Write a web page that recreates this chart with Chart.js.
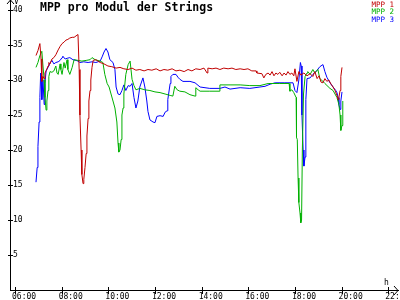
<!DOCTYPE html>
<html>
<head>
<meta charset="utf-8">
<script src="https://cdn.jsdelivr.net/npm/chart.js@4/dist/chart.umd.min.js"></script>
<style>
  html, body { margin: 0; padding: 0; background: #fff; }
  #wrap { width: 400px; height: 300px; }
</style>
</head>
<body>
<div id="wrap"><canvas id="mpp"></canvas></div>
<script>
"use strict";

/* --- DATA --- */

const series_labels = ['MPP 1', 'MPP 2', 'MPP 3'];
const series_colors = ['#c00000', '#00b000', '#0000ff'];

const x_ticks = [6, 8, 10, 12, 14, 16, 18, 20, 22];   // hours
const y_ticks = [5, 10, 15, 20, 25, 30, 35, 40];       // volts

const mpp1_time = [
  '06:54','06:59','07:04','07:07','07:09','07:12','07:15','07:17','07:20','07:25','07:27','07:30',
  '07:35','07:40','07:45','07:51','07:56','08:01','08:06','08:11','08:16','08:21','08:27','08:32',
  '08:37','08:42','08:45','08:47','08:50','08:52','08:55','08:57','09:00','09:03','09:05','09:08',
  '09:10','09:13','09:15','09:18','09:21','09:28','09:39','09:49','09:59','10:09','10:20','10:30',
  '10:40','10:51','11:01','11:11','11:21','11:32','11:42','11:52','12:03','12:13','12:23','12:33',
  '12:44','12:54','13:04','13:15','13:25','13:35','13:45','13:56','14:06','14:14','14:16','14:27',
  '14:37','14:47','14:57','15:08','15:18','15:28','15:39','15:49','15:59','16:09','16:20','16:22',
  '16:35','16:40','16:45','16:51','16:56','17:01','17:06','17:11','17:16','17:21','17:27','17:32',
  '17:37','17:42','17:47','17:52','17:57','18:00','18:05','18:10','18:15','18:23','18:31','18:39',
  '18:46','18:51','18:57','19:02','19:07','19:12','19:17','19:22','19:27','19:33','19:38','19:43',
  '19:48','19:51','19:53','19:56','19:58','20:01'
];
const mpp1_volt = [
  33.5, 34.2, 35.2, 33.0, 29.8, 30.5, 30.2, 31.0, 31.3, 32.0, 32.5, 32.3,
  33.0, 33.2, 33.6, 34.3, 34.8, 35.2, 35.4, 35.7, 35.8, 36.0, 36.1, 36.1,
  36.3, 36.5, 31.5, 25.0, 20.0, 16.5, 15.2, 15.8, 17.5, 19.5, 22.0, 24.5,
  27.0, 28.5, 30.0, 31.8, 32.8, 32.9, 32.5, 32.3, 32.0, 31.9, 31.7, 31.8,
  31.6, 31.5, 31.7, 31.4, 31.5, 31.3, 31.5, 31.4, 31.6, 31.3, 31.5, 31.4,
  31.6, 31.3, 31.4, 31.2, 31.5, 31.3, 31.6, 31.5, 31.7, 31.0, 31.7, 31.6,
  31.7, 31.5, 31.7, 31.6, 31.7, 31.5, 31.6, 31.5, 31.6, 31.3, 31.3, 31.0,
  30.9, 30.3, 30.8, 31.0, 30.7, 31.2, 30.6, 31.0, 30.8, 31.1, 30.6, 31.0,
  30.7, 31.2, 30.8, 31.0, 30.6, 31.6, 29.8, 31.2, 30.7, 31.0, 30.6, 30.9,
  30.5, 31.2, 30.2, 30.6, 29.7, 29.6, 30.2, 29.8, 30.0, 29.4, 29.0, 28.5,
  27.8, 27.2, 27.5, 28.5, 30.5, 31.8
];

const mpp2_time = [
  '06:54','06:59','07:04','07:09','07:12','07:15','07:17','07:20','07:22','07:25','07:27','07:30',
  '07:35','07:40','07:45','07:48','07:51','07:56','07:58','08:01','08:06','08:09','08:14','08:16',
  '08:21','08:27','08:32','08:42','08:52','09:03','09:13','09:18','09:26','09:39','09:46','09:51',
  '09:57','10:02','10:07','10:12','10:17','10:22','10:25','10:27','10:30','10:33','10:35','10:38',
  '10:40','10:45','10:51','10:56','10:58','11:01','11:06','11:11','11:21','11:34','11:47','12:00',
  '12:13','12:26','12:39','12:46','12:51','12:57','13:04','13:17','13:30','13:43','13:45','13:51',
  '13:56','14:21','14:45','14:47','15:13','15:39','16:04','16:30','16:51','17:21','17:45','17:47',
  '17:52','17:57','18:03','18:04','18:06','18:08','18:10','18:13','18:15','18:17','18:19','18:22',
  '18:26','18:31','18:33','18:39','18:46','18:51','18:59','19:04','19:12','19:17','19:30','19:38',
  '19:43','19:48','19:53','19:56','19:58','20:01','20:03'
];
const mpp2_volt = [
  31.8, 32.5, 33.5, 34.1, 32.0, 30.0, 27.5, 25.7, 27.0, 28.5, 30.5, 31.2,
  31.1, 31.3, 32.0, 31.0, 30.8, 32.3, 31.5, 30.8, 32.5, 31.7, 32.9, 31.5,
  30.8, 31.8, 32.9, 32.8, 32.7, 32.8, 32.9, 33.2, 32.9, 32.7, 32.5, 30.8,
  29.5, 29.0, 28.0, 27.0, 26.0, 24.0, 21.0, 19.7, 20.0, 21.5, 25.0, 26.0,
  28.0, 30.8, 32.2, 32.7, 32.7, 30.1, 29.2, 28.6, 28.8, 28.6, 28.5, 28.3,
  28.2, 28.0, 27.8, 27.7, 29.1, 28.6, 28.4, 28.3, 27.9, 27.7, 28.9, 28.6,
  28.4, 28.4, 28.4, 29.3, 29.3, 29.3, 29.2, 29.2, 29.5, 29.5, 29.5, 28.4,
  28.6, 28.2, 27.5, 21.8, 21.5, 16.0, 12.5, 11.0, 9.6, 10.0, 20.0, 28.0,
  30.5, 31.0, 31.2, 30.8, 31.5, 31.0, 31.5, 30.2, 29.8, 29.5, 28.8, 28.5,
  28.0, 27.5, 26.5, 25.0, 22.8, 23.5, 27.0
];

const mpp3_time = [
  '06:54','06:57','06:59','07:02','07:04','07:06','07:07','07:09','07:12','07:15','07:17','07:20',
  '07:25','07:30','07:35','07:40','07:45','07:51','07:56','08:01','08:03','08:09','08:14','08:21',
  '08:29','08:37','08:42','08:47','08:57','09:08','09:18','09:28','09:39','09:44','09:49','09:54',
  '09:59','10:04','10:12','10:17','10:20','10:25','10:30','10:35','10:40','10:45','10:51','10:56',
  '11:01','11:06','11:11','11:16','11:21','11:29','11:34','11:39','11:42','11:47','11:55','12:00',
  '12:05','12:13','12:21','12:26','12:31','12:33','12:39','12:41','12:46','12:54','12:59','13:04',
  '13:12','13:30','13:43','13:56','14:21','14:47','15:00','15:13','15:39','16:04','16:30','16:43',
  '16:56','17:09','17:34','17:55','18:00','18:05','18:10','18:14','18:16','18:18','18:21','18:23',
  '18:26','18:28','18:31','18:39','18:46','18:54','19:04','19:12','19:17','19:22','19:30','19:38',
  '19:45','19:48','19:51','19:53','19:56','19:58','20:01'
];
const mpp3_volt = [
  15.4, 17.5, 20.5, 24.0, 27.5, 31.0, 30.5, 27.2, 30.0, 26.5, 29.5, 31.3,
  31.8, 32.4, 32.8, 32.3, 32.5, 32.6, 32.8, 33.2, 33.4, 33.0, 33.1, 33.2,
  32.9, 32.8, 32.7, 32.5, 32.6, 32.5, 32.6, 32.5, 32.7, 33.3, 34.0, 34.5,
  34.0, 32.9, 32.5, 31.5, 29.0, 28.0, 27.9, 28.5, 29.3, 28.5, 29.2, 29.1,
  29.5, 27.5, 26.0, 27.0, 29.0, 30.3, 29.0, 27.0, 25.5, 24.3, 24.0, 23.9,
  24.8, 24.9, 24.8, 25.4, 25.6, 27.2, 29.5, 30.5, 30.8, 30.8, 30.4, 30.1,
  29.8, 29.8, 29.6, 29.0, 28.8, 28.8, 29.0, 28.7, 28.9, 28.8, 29.0, 29.1,
  29.4, 29.6, 29.6, 29.6, 28.5, 28.2, 30.0, 32.5, 32.0, 25.0, 20.0, 17.7,
  19.0, 27.2, 30.2, 30.3, 30.8, 31.2, 31.9, 32.2, 31.2, 30.4, 29.6, 29.0,
  28.5, 28.2, 27.5, 26.5, 25.8, 27.0, 28.3
];

/* --- HELPERS --- */

function to_hours(t) {
  const [h, m] = t.split(':').map(Number);
  return h + m / 60;
}

function make_points(times, volts) {
  return times.map((t, i) => ({ x: to_hours(t), y: volts[i] }));
}

function pad2(n) {
  return (n < 10 ? '0' : '') + n;
}

// keep the plot area exactly where the padding puts it
function no_label_padding(s) {
  s.paddingTop = 0;
  s.paddingBottom = 0;
  s.paddingLeft = 0;
  s.paddingRight = 0;
}

const mono = 'DejaVu Sans Mono';

/* axis arrows, crossing tick marks, units, title and legend */
const decor = {
  id: 'decor',
  afterDraw(chart) {
    const ctx = chart.ctx;
    const xs = chart.scales.x;
    const ys = chart.scales.y;
    const left = Math.round(chart.chartArea.left);
    const bottom = Math.round(chart.chartArea.bottom);
    const right = Math.round(chart.chartArea.right);

    ctx.save();
    ctx.strokeStyle = '#000';
    ctx.lineWidth = 1;
    ctx.beginPath();
    y_ticks.forEach(v => {
      const py = Math.round(ys.getPixelForValue(v)) + 0.5;
      ctx.moveTo(left - 2, py);
      ctx.lineTo(left + 3, py);
    });
    x_ticks.forEach(v => {
      const px = Math.round(xs.getPixelForValue(v)) + 0.5;
      ctx.moveTo(px, bottom - 3);
      ctx.lineTo(px, bottom + 4);
    });
    // arrow heads
    ctx.moveTo(left - 3, 4);
    ctx.lineTo(left + 0.5, 0);
    ctx.lineTo(left + 4, 4);
    ctx.moveTo(right - 4, bottom - 4);
    ctx.lineTo(right, bottom + 0.5);
    ctx.lineTo(right - 4, bottom + 5);
    ctx.stroke();

    ctx.fillStyle = '#000';
    ctx.font = '8px "' + mono + '"';
    ctx.textBaseline = 'alphabetic';
    ctx.textAlign = 'left';
    ctx.fillText('V', left + 4, 4);
    ctx.fillText('h', right - 14, bottom - 5);

    ctx.font = 'bold 11.5px "' + mono + '"';
    ctx.fillText('MPP pro Modul der Strings', 40, 11);

    ctx.font = '7.5px "' + mono + '"';
    ctx.textAlign = 'right';
    chart.data.datasets.forEach((ds, i) => {
      ctx.fillStyle = ds.borderColor;
      ctx.fillText(ds.label, 394, 7 + i * 7.4);
    });
    ctx.restore();
  }
};

/* --- CHART --- */

const mpp_canvas = document.getElementById('mpp');

const mpp_chart = new Chart(mpp_canvas, {
  type: 'line',
  data: {
    datasets: [
      { label: series_labels[0], data: make_points(mpp1_time, mpp1_volt), borderColor: series_colors[0] },
      { label: series_labels[1], data: make_points(mpp2_time, mpp2_volt), borderColor: series_colors[1] },
      { label: series_labels[2], data: make_points(mpp3_time, mpp3_volt), borderColor: series_colors[2] }
    ]
  },
  options: {
    responsive: true,
    maintainAspectRatio: false,
    animation: false,
    devicePixelRatio: 1,
    layout: { padding: { left: 10, right: 2, top: 0, bottom: 0 } },
    elements: {
      line: { borderWidth: 1, tension: 0 },
      point: { radius: 0, hoverRadius: 0 }
    },
    plugins: {
      legend: { display: false },
      title: { display: false },
      tooltip: { enabled: false }
    },
    scales: {
      x: {
        type: 'linear',
        min: 6 - 5 / 23.33,
        max: 6 - 5 / 23.33 + 388 / 23.33,
        afterFit: s => { s.height = 10; no_label_padding(s); },
        afterBuildTicks: s => { s.ticks = x_ticks.map(v => ({ value: v })); },
        grid: { drawOnChartArea: false, drawTicks: false },
        border: { color: '#000', width: 1 },
        ticks: {
          autoSkip: false,
          maxRotation: 0,
          align: 'start',
          labelOffset: -3,
          padding: 2,
          color: '#000',
          font: { family: mono, size: 8 },
          callback: v => pad2(v) + ':00'
        }
      },
      y: {
        min: 0,
        max: 290 / 7,
        afterFit: s => { s.width = 0; no_label_padding(s); },
        afterBuildTicks: s => { s.ticks = y_ticks.map(v => ({ value: v })); },
        grid: { drawOnChartArea: false, drawTicks: false },
        border: { color: '#000', width: 1 },
        ticks: {
          mirror: true,
          padding: 3,
          color: '#000',
          font: { family: mono, size: 8 }
        }
      }
    }
  },
  plugins: [decor]
});
</script>
</body>
</html>
